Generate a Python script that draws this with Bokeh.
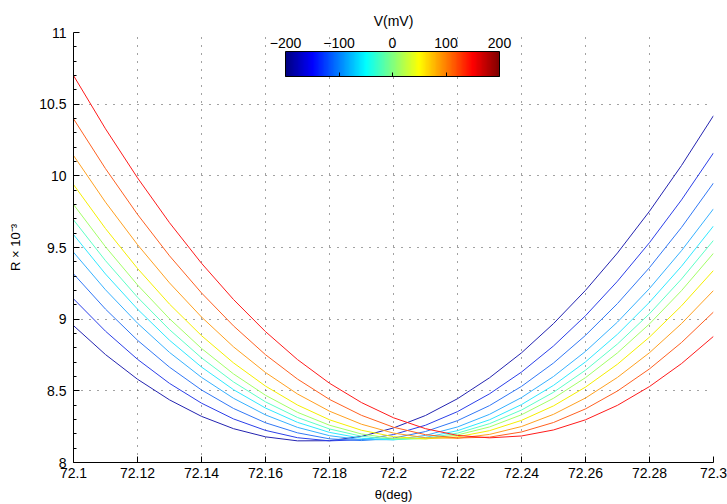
import numpy as np
from bokeh.plotting import figure
from bokeh.models import FixedTicker, ColorBar, LinearColorMapper, Label, Range1d
from bokeh.embed import file_html
from bokeh.resources import INLINE

# ---------------- data ----------------
theta = [72.10, 72.11, 72.12, 72.13, 72.14, 72.15, 72.16, 72.17, 72.18, 72.19, 72.20,
         72.21, 72.22, 72.23, 72.24, 72.25, 72.26, 72.27, 72.28, 72.29, 72.30]

curve_1 = [8.955, 8.753, 8.581, 8.437, 8.322, 8.236, 8.179, 8.151, 8.152, 8.182, 8.241,
           8.328, 8.445, 8.591, 8.765, 8.969, 9.201, 9.462, 9.753, 10.072, 10.420]
curve_2 = [9.142, 8.916, 8.720, 8.552, 8.414, 8.304, 8.224, 8.173, 8.151, 8.159, 8.195,
           8.260, 8.355, 8.479, 8.631, 8.813, 9.024, 9.265, 9.534, 9.832, 10.160]
curve_3 = [9.316, 9.070, 8.853, 8.665, 8.506, 8.377, 8.277, 8.207, 8.165, 8.153, 8.170,
           8.216, 8.292, 8.397, 8.531, 8.694, 8.887, 9.109, 9.360, 9.640, 9.950]
curve_4 = [9.467, 9.205, 8.972, 8.768, 8.594, 8.448, 8.332, 8.245, 8.187, 8.159, 8.159,
           8.189, 8.248, 8.336, 8.453, 8.600, 8.775, 8.980, 9.214, 9.478, 9.770]
curve_5 = [9.590, 9.315, 9.070, 8.853, 8.666, 8.508, 8.380, 8.280, 8.210, 8.169, 8.158,
           8.175, 8.222, 8.298, 8.404, 8.538, 8.702, 8.895, 9.118, 9.369, 9.650]
curve_6 = [9.693, 9.408, 9.153, 8.927, 8.730, 8.562, 8.423, 8.314, 8.234, 8.183, 8.161,
           8.168, 8.205, 8.271, 8.366, 8.490, 8.644, 8.827, 9.038, 9.280, 9.550]
curve_7 = [9.800, 9.505, 9.239, 9.003, 8.796, 8.618, 8.469, 8.350, 8.260, 8.199, 8.167,
           8.165, 8.192, 8.248, 8.333, 8.448, 8.592, 8.765, 8.967, 9.199, 9.460]
curve_8 = [9.939, 9.632, 9.354, 9.105, 8.885, 8.695, 8.533, 8.401, 8.298, 8.225, 8.180,
           8.165, 8.179, 8.222, 8.294, 8.395, 8.526, 8.686, 8.875, 9.093, 9.340]
curve_9 = [10.142, 9.816, 9.520, 9.253, 9.015, 8.807, 8.628, 8.478, 8.358, 8.267, 8.205,
           8.173, 8.169, 8.196, 8.251, 8.336, 8.450, 8.594, 8.766, 8.969, 9.200]
curve_10 = [10.398, 10.050, 9.731, 9.442, 9.183, 8.953, 8.752, 8.582, 8.440, 8.329, 8.246,
            8.194, 8.171, 8.177, 8.213, 8.279, 8.374, 8.499, 8.653, 8.837, 9.050]
curve_11 = [10.700, 10.328, 9.986, 9.673, 9.390, 9.137, 8.913, 8.718, 8.553, 8.418, 8.312,
            8.236, 8.189, 8.172, 8.185, 8.227, 8.298, 8.399, 8.530, 8.690, 8.880]

x_ticks = [72.1, 72.12, 72.14, 72.16, 72.18, 72.2, 72.22, 72.24, 72.26, 72.28, 72.3]
x_tick_labels = ["72.1", "72.12", "72.14", "72.16", "72.18", "72.2", "72.22", "72.24",
                 "72.26", "72.28", "72.3"]
y_ticks = [8, 8.5, 9, 9.5, 10, 10.5, 11]
y_tick_labels = ["8", "8.5", "9", "9.5", "10", "10.5", "11"]
y_minor_ticks = [8.1, 8.2, 8.3, 8.4, 8.6, 8.7, 8.8, 8.9, 9.1, 9.2, 9.3, 9.4,
                 9.6, 9.7, 9.8, 9.9, 10.1, 10.2, 10.3, 10.4, 10.6, 10.7, 10.8, 10.9]
cbar_ticks = [-200, -100, 0, 100, 200]
cbar_tick_labels = ["\u2212200", "\u2212100", "0", "100", "200"]

curves = [curve_1, curve_2, curve_3, curve_4, curve_5, curve_6,
          curve_7, curve_8, curve_9, curve_10, curve_11]
colors = ["#2323b0", "#2b3fe8", "#3177f5", "#36b0ff", "#30e8ff", "#5cffc6",
          "#a2ff66", "#f5ee00", "#ffa020", "#ff6020", "#ff1a1a"]

FONT = "Liberation Sans"

# jet colormap for the colour bar
t = np.linspace(0, 1, 256)
def _c(v):
    return np.clip(1.5 - np.abs(4 * t - v), 0, 1)
r, g, b = _c(3), _c(2), _c(1)
jet = ["#%02x%02x%02x" % (int(round(a * 255)), int(round(bb * 255)), int(round(c * 255)))
       for a, bb, c in zip(r, g, b)]

p = figure(width=727, height=504, x_range=Range1d(72.1, 72.3), y_range=Range1d(8, 11),
           output_backend="svg", toolbar_location=None, title="V(mV)",
           min_border_left=73, min_border_right=14, min_border_top=32, min_border_bottom=42)
p.outline_line_color = None
p.background_fill_color = "white"
p.border_fill_color = "white"
p.title.align = "center"
p.title.text_font = FONT
p.title.text_font_size = "14px"
p.title.text_font_style = "normal"
p.title.text_color = "black"
p.title.standoff = 8

for ys, col in zip(curves, colors):
    p.line(theta, ys, line_color=col, line_width=1)

for ax, ticks, labels in ((p.xaxis, x_ticks, x_tick_labels), (p.yaxis, y_ticks, y_tick_labels)):
    ax.major_label_overrides = {tk: lb for tk, lb in zip(ticks, labels)}
    ax.major_tick_in = 6
    ax.major_tick_out = 0
    ax.axis_line_color = "black"
    ax.major_tick_line_color = "black"
    ax.major_label_text_font = FONT
    ax.major_label_text_font_size = "14px"
    ax.major_label_text_color = "black"
    ax.axis_label_text_font = FONT
    ax.axis_label_text_font_size = "13px"
    ax.axis_label_text_font_style = "normal"
    ax.axis_label_text_color = "black"

p.xaxis.ticker = FixedTicker(ticks=x_ticks)
p.xaxis.minor_tick_line_color = None
p.yaxis.ticker = FixedTicker(ticks=y_ticks, minor_ticks=y_minor_ticks)
p.yaxis.minor_tick_in = 3
p.yaxis.minor_tick_out = 0
p.yaxis.minor_tick_line_color = "black"

p.xaxis.major_label_standoff = 5
p.yaxis.major_label_standoff = 7
p.xaxis.axis_label = "\u03b8(deg)"
p.yaxis.axis_label = "R \u00d7 10\u207b\u00b3"
p.xaxis.axis_label_standoff = 6
p.yaxis.axis_label_standoff = 13

p.xgrid.ticker = FixedTicker(ticks=x_ticks)
p.ygrid.ticker = FixedTicker(ticks=y_ticks)
for gr in (p.xgrid, p.ygrid):
    gr.grid_line_color = "#444444"
    gr.grid_line_dash = "1 7"
    gr.grid_line_width = 1
    gr.grid_line_alpha = 1

# colour bar
mapper = LinearColorMapper(palette=jet, low=-200, high=200)
cb_x, cb_w, cb_h = 212, 214, 25
cb = ColorBar(color_mapper=mapper, orientation="horizontal", width=cb_w, height=cb_h,
              location=(cb_x, 386), padding=0, ticker=FixedTicker(ticks=cbar_ticks),
              major_label_overrides={tk: "" for tk in cbar_ticks}, label_standoff=0,
              major_tick_in=4, major_tick_out=0, major_tick_line_color="black",
              minor_tick_line_color=None, bar_line_color="black",
              background_fill_alpha=0, border_line_color=None)
p.add_layout(cb, "center")

for tk, lb in zip(cbar_ticks, cbar_tick_labels):
    sx = cb_x + (tk - cbar_ticks[0]) / (cbar_ticks[-1] - cbar_ticks[0]) * cb_w
    p.add_layout(Label(x=sx, y=420, x_units="screen", y_units="screen", text=lb,
                       text_align="center", text_baseline="middle",
                       text_font=FONT, text_font_size="14px", text_color="black"))

open("out.html", "w").write(file_html(p, INLINE))
